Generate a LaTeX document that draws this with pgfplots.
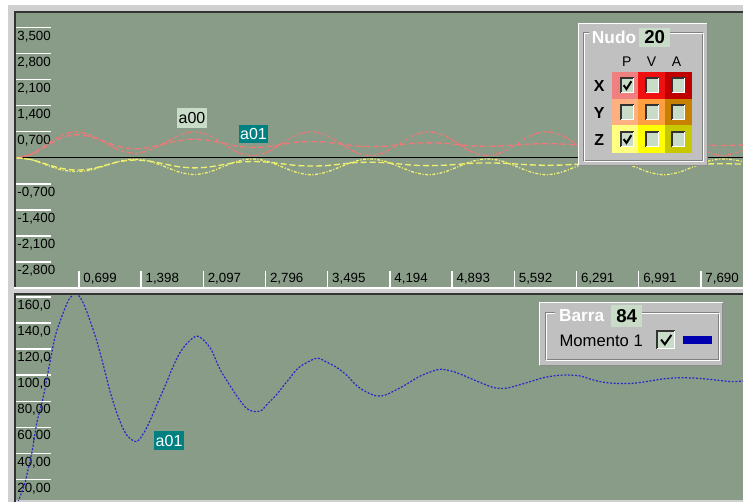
\documentclass[border=0pt]{standalone}
\usepackage{pgfplots}
\usepackage{pgfplotstable}
\pgfplotsset{compat=1.18}
\usepackage{fontspec}
\setmainfont{Liberation Sans}

\definecolor{plotbg}{RGB}{136,156,136}
\definecolor{facegray}{RGB}{208,208,208}
\definecolor{panelgray}{RGB}{192,192,192}
\definecolor{boxgreen}{RGB}{200,220,200}
\definecolor{tagteal}{RGB}{0,128,128}
\definecolor{curvered}{RGB}{240,120,120}
\definecolor{curveyellow}{RGB}{240,240,112}
\definecolor{curveblue}{RGB}{40,40,200}
\definecolor{swatchblue}{RGB}{0,0,176}
\definecolor{cXP}{RGB}{240,128,128}
\definecolor{cXV}{RGB}{240,16,16}
\definecolor{cXA}{RGB}{192,0,0}
\definecolor{cYP}{RGB}{255,176,128}
\definecolor{cYV}{RGB}{255,160,64}
\definecolor{cYA}{RGB}{200,128,0}
\definecolor{cZP}{RGB}{255,255,128}
\definecolor{cZV}{RGB}{255,255,0}
\definecolor{cZA}{RGB}{200,200,0}

\newcommand{\pxfont}[1]{\fontsize{#1}{#1}\selectfont}

% sunken check box: x, y (top left, px), width, height
\newcommand{\cbox}[4]{%
  \fill[boxgreen] (#1,#2) rectangle ({#1+#3},{#2+#4});
  \draw[black!80, line width=1.1pt] (#1+0.7,{#2+#4}) -- (#1+0.7,#2+0.7) -- ({#1+#3},#2+0.7);
  \draw[white, line width=0.75pt] ({#1+#3-0.5},#2+1) -- ({#1+#3-0.5},{#2+#4-0.5}) -- (#1+1,{#2+#4-0.5});
}
\newcommand{\cmark}[4]{%
  \draw[black, line width=1.5pt] ({#1+0.25*#3},{#2+0.5*#4}) -- ({#1+0.45*#3},{#2+0.75*#4}) -- ({#1+0.8*#3},{#2+0.25*#4});
}

% node displacements, series a00 (xa, za) and a01 (xb, zb)
\pgfplotstableread{
t      xa     xb     za      zb
0.000  0.00   0.00   0.00    0.00
0.166  0.10   0.09  -0.05   -0.05
0.332  0.35   0.31  -0.19   -0.17
0.498  0.60   0.53  -0.32   -0.28
0.665  0.70   0.62  -0.37   -0.33
0.830  0.61   0.565 -0.33   -0.30
0.996  0.40   0.43  -0.21   -0.20
1.161  0.20   0.295 -0.09   -0.10
1.326  0.12   0.24  -0.04   -0.06
1.491  0.20   0.28  -0.09   -0.09
1.657  0.39   0.37  -0.23   -0.165
1.822  0.60   0.46  -0.38   -0.24
1.987  0.70   0.50  -0.45   -0.27
2.152  0.61   0.47  -0.39   -0.25
2.318  0.38   0.39  -0.24   -0.185
2.483  0.15   0.31  -0.09   -0.12
2.648  0.06   0.28  -0.03   -0.10
2.813  0.15   0.30  -0.09   -0.115
2.979  0.38   0.36  -0.24   -0.16
3.144  0.61   0.42  -0.39   -0.205
3.309  0.70   0.44  -0.455  -0.22
3.474  0.61   0.42  -0.39   -0.21
3.640  0.38   0.37  -0.24   -0.17
3.805  0.15   0.32  -0.09   -0.13
3.970  0.06   0.30  -0.03   -0.12
4.135  0.15   0.31  -0.09   -0.13
4.301  0.38   0.35  -0.24   -0.165
4.466  0.61   0.39  -0.39   -0.20
4.631  0.70   0.40  -0.455  -0.21
4.796  0.61   0.39  -0.39   -0.20
4.962  0.38   0.355 -0.24   -0.175
5.127  0.15   0.32  -0.09   -0.145
5.292  0.06   0.31  -0.03   -0.14
5.457  0.15   0.32  -0.09   -0.145
5.623  0.38   0.345 -0.24   -0.17
5.788  0.61   0.37  -0.39   -0.19
5.953  0.70   0.38  -0.455  -0.20
6.118  0.61   0.37  -0.39   -0.195
6.284  0.38   0.35  -0.24   -0.175
6.449  0.15   0.33  -0.09   -0.155
6.614  0.06   0.32  -0.03   -0.15
6.779  0.15   0.33  -0.09   -0.155
6.945  0.38   0.345 -0.24   -0.17
7.110  0.61   0.36  -0.39   -0.185
7.275  0.70   0.37  -0.455  -0.19
7.440  0.61   0.365 -0.39   -0.185
7.606  0.38   0.35  -0.24   -0.175
7.771  0.15   0.335 -0.09   -0.165
7.936  0.06   0.33  -0.03   -0.16
8.101  0.15   0.335 -0.07   -0.165
8.163  0.20   0.34  -0.11   -0.17
}\nodo

% bar 84, moment 1
\pgfplotstableread{
t      m
0.000  0
0.093  17
0.116  24
0.172  41
0.228  64
0.295  82
0.363  106
0.430  129
0.486  141
0.565  155
0.598  159
0.666  163
0.744  156
0.823  142
0.901  126
0.980  106
1.047  88
1.115  73
1.182  61
1.249  53
1.350  49
1.440  57
1.518  68
1.586  79
1.676  93
1.754  106
1.833  117
1.923  125
2.024  130
2.113  126
2.192  119
2.248  110
2.304  102
2.360  96
2.416  90
2.484  83
2.562  76
2.618  73
2.686  72
2.753  73
2.820  78
2.921  85
2.989  91
3.067  97.5
3.157  105
3.269  110
3.382  113
3.483  110
3.595  106
3.707  100
3.820  92
3.932  87
4.044  84
4.134  84.5
4.246  88
4.381  93
4.527  99
4.672  103
4.773  104.5
4.919  102.5
5.065  98.5
5.222  94
5.368  90.3
5.503  90
5.649  92.5
5.795  95.5
5.952  98.5
6.131  100
6.322  99.5
6.468  96.5
6.625  94.2
6.771  93.6
6.917  93.7
7.074  95
7.254  97
7.444  98
7.669  97.5
7.860  96.2
8.039  95
8.163  95.5
}\barra

\pgfplotsset{
  panel/.style={
    scale only axis, width=546pt,
    xmin=-0.008, xmax=8.163,
    axis line style={draw=none},
    axis background/.style={fill=plotbg},
    major tick length=0pt, tick align=inside, tick style={draw=none},
    ticklabel style={font=\pxfont{10pt}},
    /pgf/number format/assume math mode=true,
    yticklabel style={anchor=north west, inner sep=0pt, xshift=0.9pt, yshift=-2.4pt},
  },
}

\begin{document}
\begin{tikzpicture}
% screen layout in pixels, y downwards
\begin{scope}[x=0.75pt, y=-0.75pt]
\useasboundingbox (0,0) rectangle (744,503);
\fill[white] (0,0) rectangle (744,503);
\fill[facegray] (8,5) rectangle (744,503);
\end{scope}

% upper panel: node 20 positions
\begin{axis}[panel, at={(12pt,-215.25pt)}, anchor=south west,
  height=205.125pt, ymin=-3.458, ymax=3.874,
  xtick={0.6991,1.3982,2.0973,2.7964,3.4955,4.1946,4.8937,5.5928,6.2919,6.991,7.6901},
  xticklabels={{0,699},{1,398},{2,097},{2,796},{3,495},{4,194},{4,893},{5,592},{6,291},{6,991},{7,690}},
  xticklabel style={anchor=base west, inner sep=0pt, xshift=3.2pt, yshift=2.8pt},
  ytick={3.5,2.8,2.1,1.4,0.7,-0.7,-1.4,-2.1,-2.8},
  yticklabels={{3,500},{2,800},{2,100},{1,400},{0,700},{-0,700},{-1,400},{-2,100},{-2,800}},
]
\pgfplotsinvokeforeach{3.5,2.8,2.1,1.4,0.7,-0.7,-1.4,-2.1,-2.8}{
  \draw[white, line width=1pt] (axis cs:-0.008,#1) -- (axis cs:0.385,#1);}
\pgfplotsinvokeforeach{0.6991,1.3982,2.0973,2.7964,3.4955,4.1946,4.8937,5.5928,6.2919,6.991,7.6901}{
  \draw[white, line width=1pt] (axis cs:#1,-3.458) -- (axis cs:#1,-3.03);}
\draw[black, line width=0.9pt] (axis cs:-0.008,0) -- (axis cs:8.163,0);
\addplot[curvered, line width=1pt, smooth, dash pattern=on 2.2pt off 1.2pt on 0.8pt off 1.2pt] table[x=t, y=xa] {\nodo};
\addplot[curvered, line width=1pt, smooth, dash pattern=on 4.5pt off 2.2pt] table[x=t, y=xb] {\nodo};
\addplot[curveyellow, line width=1pt, smooth, dash pattern=on 2.2pt off 1.2pt on 0.8pt off 1.2pt] table[x=t, y=za] {\nodo};
\addplot[curveyellow, line width=1pt, smooth, dash pattern=on 4.5pt off 2.2pt] table[x=t, y=zb] {\nodo};
\end{axis}

% lower panel: bar 84 moment
\begin{axis}[panel, at={(12pt,-375.75pt)}, anchor=south west,
  height=154.125pt, ymin=3.9, ymax=161.4,
  xtick=\empty,
  ytick={160,140,120,100,80,60,40,20},
  yticklabels={{160,0},{140,0},{120,0},{100,0},{80,00},{60,00},{40,00},{20,00}},
]
\pgfplotsinvokeforeach{160,140,120,100,80,60,40,20}{
  \draw[white, line width=1pt] (axis cs:-0.008,#1) -- (axis cs:0.385,#1);}
\addplot[curveblue, line width=0.9pt, smooth, dash pattern=on 1.5pt off 1.2pt] table[x=t, y=m] {\barra};
\end{axis}

\begin{scope}[x=0.75pt, y=-0.75pt]
% panel frames
\draw[black!80, line width=1.5pt] (15,287) -- (15,12.5) -- (744,12.5);
\draw[white, line width=1.2pt] (14,288.3) -- (744,288.3);
\draw[black!80, line width=1.5pt] (15,503) -- (15,294.5) -- (744,294.5);

% series tags
\fill[boxgreen] (177.3,108.3) rectangle (207.3,127.7);
\node[font=\pxfont{12pt}, text=black, inner sep=0pt] at (192.3,118) {a00};
\fill[tagteal] (239.3,125) rectangle (268.3,143.3);
\node[font=\pxfont{12pt}, text=white, inner sep=0pt] at (253.8,134.2) {a01};
\fill[tagteal] (154.3,431.7) rectangle (184.3,450.7);
\node[font=\pxfont{12pt}, text=white, inner sep=0pt] at (169.3,441.2) {a01};

% node selector
\fill[panelgray] (579,23) rectangle (709,166);
\draw[white, line width=0.75pt] (579.5,165.5) -- (579.5,23.5) -- (708.5,23.5);
\draw[black!45, line width=0.75pt] (708.5,23.5) -- (708.5,165.5) -- (579.5,165.5);
\draw[black!50, line width=0.75pt] (584.5,32.5) rectangle (703.5,161);
\draw[white, line width=0.75pt] (585.5,33.5) rectangle (704.5,162);
\fill[panelgray] (590,30) rectangle (640,45);
\node[font=\bfseries\pxfont{13pt}, text=white, anchor=base west, inner sep=0pt] at (592.5,43.3) {Nudo};
\fill[boxgreen] (640,28.3) rectangle (670.5,47.3);
\node[font=\bfseries\pxfont{14pt}, text=black, anchor=base, inner sep=0pt] at (655.5,44) {20};
\node[font=\pxfont{10.5pt}, anchor=base, inner sep=0pt] at (627.5,66.7) {P};
\node[font=\pxfont{10.5pt}, anchor=base, inner sep=0pt] at (652.5,66.7) {V};
\node[font=\pxfont{10.5pt}, anchor=base, inner sep=0pt] at (677.5,66.7) {A};
\node[font=\bfseries\pxfont{12pt}, inner sep=0pt] at (600,86.5) {X};
\node[font=\bfseries\pxfont{12pt}, inner sep=0pt] at (600,113) {Y};
\node[font=\bfseries\pxfont{12pt}, inner sep=0pt] at (600,140.5) {Z};
\fill[cXP] (613.3,72.3) rectangle (639,99.3);
\fill[cXV] (639,72.3) rectangle (666,99.3);
\fill[cXA] (666,72.3) rectangle (693,99.3);
\fill[cYP] (613.3,99.3) rectangle (639,125);
\fill[cYV] (639,99.3) rectangle (666,125);
\fill[cYA] (666,99.3) rectangle (693,125);
\fill[cZP] (613.3,125) rectangle (639,152.7);
\fill[cZV] (639,125) rectangle (666,152.7);
\fill[cZA] (666,125) rectangle (693,152.7);
\cbox{621}{77.5}{14}{15.5}
\cbox{646}{77.5}{14}{15.5}
\cbox{672}{77.5}{14}{15.5}
\cbox{621}{104.5}{14}{15.5}
\cbox{646}{104.5}{14}{15.5}
\cbox{672}{104.5}{14}{15.5}
\cbox{621}{131.5}{14}{15.5}
\cbox{646}{131.5}{14}{15.5}
\cbox{672}{131.5}{14}{15.5}
\cmark{621}{77.5}{14}{15.5}
\cmark{621}{131.5}{14}{15.5}

% bar selector
\fill[panelgray] (540,302.7) rectangle (724,366);
\draw[white, line width=0.75pt] (540.5,365.5) -- (540.5,303.2) -- (723.5,303.2);
\draw[black!45, line width=0.75pt] (723.5,303.2) -- (723.5,365.5) -- (540.5,365.5);
\draw[black!50, line width=0.75pt] (546,313.3) rectangle (719,360);
\draw[white, line width=0.75pt] (547,314.3) rectangle (720,361);
\fill[panelgray] (556,309) rectangle (612,322);
\node[font=\bfseries\pxfont{13pt}, text=white, anchor=base west, inner sep=0pt] at (559.5,321.7) {Barra};
\fill[boxgreen] (611.7,305) rectangle (643.3,327.3);
\node[font=\bfseries\pxfont{14pt}, text=black, anchor=base, inner sep=0pt] at (627.5,322.7) {84};
\node[font=\pxfont{12.5pt}, anchor=base west, inner sep=0pt] at (560,347.3) {Momento 1};
\cbox{657.3}{330.7}{18.7}{18.7}
\cmark{657.3}{330.7}{18.7}{18.7}
\fill[swatchblue] (684,336) rectangle (712.7,344);
\end{scope}
\end{tikzpicture}
\end{document}
